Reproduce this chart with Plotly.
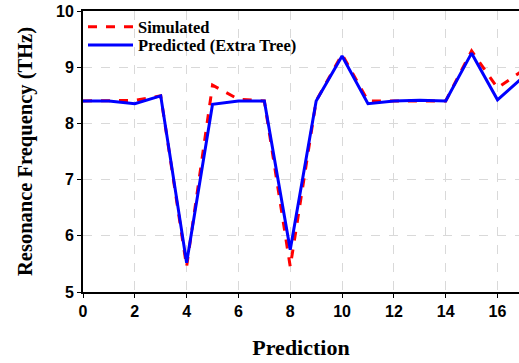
import plotly.graph_objects as go

x_vals = list(range(18))
simulated = [8.40, 8.40, 8.41, 8.49, 5.45, 8.68, 8.43, 8.40, 5.45, 8.40, 9.23, 8.40, 8.40, 8.41, 8.40, 9.29, 8.63, 8.95]
predicted = [8.40, 8.40, 8.35, 8.49, 5.52, 8.34, 8.40, 8.40, 5.75, 8.40, 9.20, 8.35, 8.40, 8.41, 8.40, 9.25, 8.42, 8.83]
x_ticks = [0, 2, 4, 6, 8, 10, 12, 14, 16]
y_ticks = [5, 6, 7, 8, 9, 10]

fig = go.Figure()
fig.add_trace(go.Scatter(x=x_vals, y=simulated, mode="lines", name="<b>Simulated</b>",
                         legend="legend",
                         line=dict(color="#ff0000", width=3, dash="dash")))
fig.add_trace(go.Scatter(x=x_vals, y=predicted, mode="lines", name="<b>Predicted (Extra Tree)</b>",
                         legend="legend2",
                         line=dict(color="#0000ff", width=3)))

leg_common = dict(xanchor="left", yanchor="middle", bgcolor="rgba(0,0,0,0)", borderwidth=0,
                  font=dict(family="Liberation Serif", size=16.5, color="black"),
                  itemwidth=45)
fig.update_layout(
    width=519, height=363,
    margin=dict(l=83, r=0, t=11, b=71),
    plot_bgcolor="white", paper_bgcolor="white",
    showlegend=True,
    legend=dict(x=0.0, y=0.943, **leg_common),
    legend2=dict(x=0.0, y=0.878, **leg_common),
)
fig.update_xaxes(range=[0, 16.83], tickvals=x_ticks, ticks="outside", ticklen=4,
                 tickwidth=1, tickcolor="black", automargin=False,
                 showline=True, linecolor="black", linewidth=2, mirror=True,
                 showgrid=True, gridcolor="#d9d9d9", griddash="dash", gridwidth=1,
                 zeroline=False,
                 tickfont=dict(family="Liberation Sans", size=16, color="black", weight="bold"),
                 title=dict(text="<b>Prediction</b>", standoff=20,
                            font=dict(family="Liberation Serif", size=22, color="black")))
fig.update_yaxes(range=[5, 10], tickvals=y_ticks, ticks="outside", ticklen=4,
                 tickwidth=1, tickcolor="black", automargin=False,
                 showline=True, linecolor="black", linewidth=2, mirror=False,
                 showgrid=True, gridcolor="#d9d9d9", griddash="dash", gridwidth=1,
                 zeroline=False,
                 tickfont=dict(family="Liberation Sans", size=16, color="black", weight="bold"),
                 title=dict(text="<b>Resonance Frequency (THz)</b>", standoff=18,
                            font=dict(family="Liberation Serif", size=20.5, color="black")))

fig.write_html("out.html", config={"displayModeBar": False},
               post_script="document.body.style.margin='0';document.body.style.overflow='hidden';")
